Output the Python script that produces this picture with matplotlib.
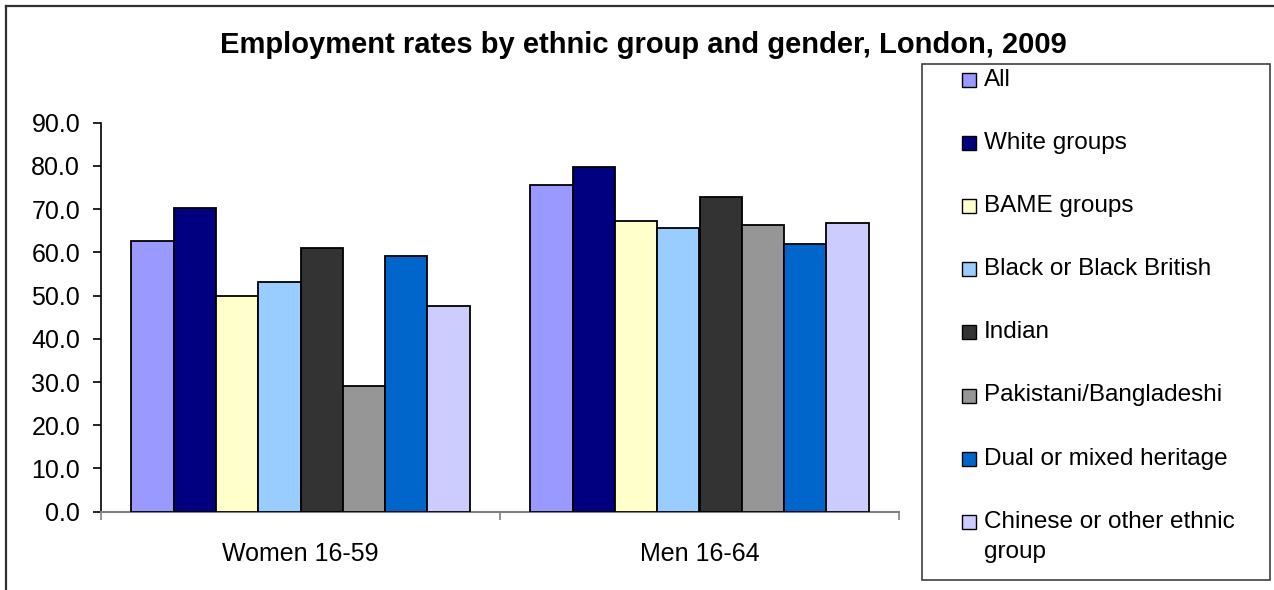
import matplotlib.pyplot as plt
from matplotlib.patches import Rectangle
from matplotlib.lines import Line2D

plt.rcParams['font.family'] = ['Liberation Sans', 'DejaVu Sans']

# data
categories = ['Women 16-59', 'Men 16-64']
groups = ['All', 'White groups', 'BAME groups', 'Black or Black British',
          'Indian', 'Pakistani/Bangladeshi', 'Dual or mixed heritage',
          'Chinese or other ethnic\ngroup']
women = [62.7, 70.2, 49.8, 53.1, 61.1, 29.0, 59.2, 47.5]
men = [75.7, 79.8, 67.3, 65.6, 72.9, 66.4, 61.9, 66.9]
colors = ['#9999FF', '#000080', '#FFFFCC', '#99CCFF',
          '#333333', '#969696', '#0066CC', '#CCCCFF']
yticks = [0, 10, 20, 30, 40, 50, 60, 70, 80, 90]

W, H = 1274, 590
fig = plt.figure(figsize=(W / 100, H / 100), dpi=100)


def fx(px):
    return px / W


def fy(py):
    return 1 - py / H


ax = fig.add_axes([fx(101), fy(511.7), fx(798), 389 / H])

bw = 0.106
for j, (name, col) in enumerate(zip(groups, colors)):
    xs = [i + (j - 3.5) * bw for i in range(len(categories))]
    ax.bar(xs, [women[j], men[j]], bw, color=col, edgecolor='black',
           linewidth=1.3, zorder=3)

ax.set_xlim(-0.5, len(categories) - 0.5)
ax.set_ylim(0, 90)
ax.set_yticks(yticks)
ax.set_yticklabels([f'{v:.1f}' for v in yticks], fontsize=18)
ax.tick_params(axis='y', direction='out', length=6, width=1.2, pad=9,
               color='black')

# category boundaries as major ticks, names as minor ticks
ax.set_xticks([i - 0.5 for i in range(len(categories) + 1)])
ax.set_xticklabels([])
ax.tick_params(axis='x', which='major', direction='out', length=6,
               width=1.2, color='#808080')
ax.set_xticks(range(len(categories)), minor=True)
ax.set_xticklabels(categories, minor=True, fontsize=18)
ax.tick_params(axis='x', which='minor', length=0, pad=22)

for s in ['top', 'right']:
    ax.spines[s].set_visible(False)
ax.spines['left'].set_linewidth(1.2)
ax.spines['bottom'].set_color('#808080')
ax.spines['bottom'].set_linewidth(1.5)

fig.text(fx(643), fy(45), 'Employment rates by ethnic group and gender, London, 2009',
         ha='center', va='center', fontsize=21, fontweight='bold')

# legend box
fig.patches.append(Rectangle((fx(922), fy(580)), fx(1270 - 922), (580 - 64) / H,
                             transform=fig.transFigure, facecolor='white',
                             edgecolor='#404040', linewidth=1.2))
row = 63.1
for j, (name, col) in enumerate(zip(groups, colors)):
    yc = 80 + j * row
    fig.patches.append(Rectangle((fx(962), fy(yc + 7)), fx(14), 14 / H,
                                 transform=fig.transFigure, facecolor=col,
                                 edgecolor='black', linewidth=1.0))
    for k, line in enumerate(name.split('\n')):
        fig.text(fx(984), fy(yc + k * 30), line, ha='left', va='center',
                 fontsize=17.5)

# chart area border
fig.add_artist(Line2D([fx(6), 1.0], [fy(6), fy(6)], transform=fig.transFigure,
                      color='#303030', linewidth=1.6))
fig.add_artist(Line2D([fx(6), fx(6)], [fy(6), 0.0], transform=fig.transFigure,
                      color='#303030', linewidth=1.6))

fig.savefig('out.png', dpi=100, facecolor='white')
